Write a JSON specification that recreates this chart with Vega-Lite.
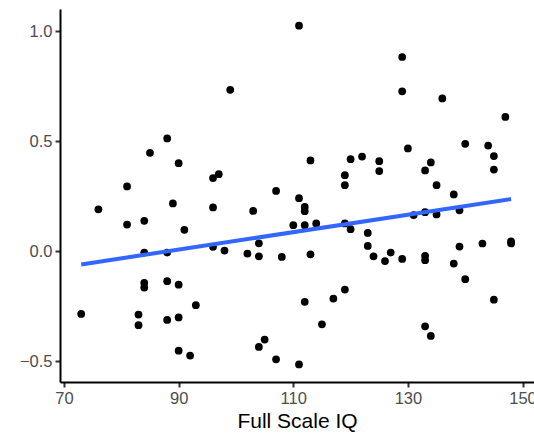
{
  "$schema": "https://vega.github.io/schema/vega-lite/v6.json",
  "width": 474,
  "height": 373,
  "autosize": "none",
  "padding": {"left": 60, "top": 9, "right": 0, "bottom": 56},
  "background": "white",
  "config": {
    "view": {"stroke": null},
    "font": "Liberation Sans",
    "axis": {
      "grid": false,
      "domainColor": "black",
      "domainWidth": 2,
      "tickColor": "#333333",
      "tickWidth": 2,
      "tickSize": 5,
      "labelColor": "#4D4D4D",
      "labelFontSize": 16.5,
      "labelFont": "Liberation Sans",
      "labelPadding": 3,
      "titleFont": "Liberation Sans",
      "titleFontSize": 21,
      "titleFontWeight": "normal",
      "titleColor": "black"
    }
  },
  "datasets": {
    "pts": [
      {"iq": 99, "v": 0.733}, {"iq": 88, "v": 0.512}, {"iq": 85, "v": 0.447}, {"iq": 90, "v": 0.40},
      {"iq": 96, "v": 0.332}, {"iq": 97, "v": 0.35}, {"iq": 81, "v": 0.294}, {"iq": 76, "v": 0.19},
      {"iq": 89, "v": 0.217}, {"iq": 96, "v": 0.199}, {"iq": 103, "v": 0.183}, {"iq": 84, "v": 0.138},
      {"iq": 81, "v": 0.121}, {"iq": 91, "v": 0.097}, {"iq": 84, "v": -0.006}, {"iq": 88, "v": -0.006},
      {"iq": 96, "v": 0.02}, {"iq": 98, "v": 0.003}, {"iq": 102, "v": -0.011}, {"iq": 104, "v": 0.036},
      {"iq": 104, "v": -0.023}, {"iq": 73, "v": -0.285}, {"iq": 84, "v": -0.144}, {"iq": 84, "v": -0.165},
      {"iq": 88, "v": -0.136}, {"iq": 90, "v": -0.152}, {"iq": 93, "v": -0.245}, {"iq": 83, "v": -0.288},
      {"iq": 83, "v": -0.336}, {"iq": 88, "v": -0.312}, {"iq": 90, "v": -0.301}, {"iq": 90, "v": -0.452},
      {"iq": 92, "v": -0.474}, {"iq": 104, "v": -0.435}, {"iq": 105, "v": -0.401}, {"iq": 107, "v": -0.491},
      {"iq": 111, "v": -0.514}, {"iq": 112, "v": -0.23}, {"iq": 115, "v": -0.332}, {"iq": 117, "v": -0.215},
      {"iq": 119, "v": -0.174}, {"iq": 108, "v": -0.026}, {"iq": 113, "v": -0.014}, {"iq": 110, "v": 0.118},
      {"iq": 112, "v": 0.118}, {"iq": 114, "v": 0.126}, {"iq": 112, "v": 0.201}, {"iq": 112, "v": 0.182},
      {"iq": 119, "v": 0.126}, {"iq": 120, "v": 0.1}, {"iq": 123, "v": 0.083}, {"iq": 123, "v": 0.024},
      {"iq": 124, "v": -0.023}, {"iq": 126, "v": -0.045}, {"iq": 127, "v": -0.006}, {"iq": 129, "v": -0.035},
      {"iq": 131, "v": 0.164}, {"iq": 133, "v": 0.177}, {"iq": 135, "v": 0.167}, {"iq": 139, "v": 0.186},
      {"iq": 133, "v": -0.021}, {"iq": 133, "v": -0.041}, {"iq": 138, "v": -0.056}, {"iq": 139, "v": 0.021},
      {"iq": 140, "v": -0.127}, {"iq": 143, "v": 0.035}, {"iq": 145, "v": -0.22}, {"iq": 148, "v": 0.045},
      {"iq": 148, "v": 0.035}, {"iq": 133, "v": -0.341}, {"iq": 134, "v": -0.385}, {"iq": 111, "v": 1.024},
      {"iq": 129, "v": 0.882}, {"iq": 129, "v": 0.726}, {"iq": 136, "v": 0.694}, {"iq": 147, "v": 0.61},
      {"iq": 113, "v": 0.412}, {"iq": 120, "v": 0.418}, {"iq": 122, "v": 0.43}, {"iq": 125, "v": 0.409},
      {"iq": 125, "v": 0.364}, {"iq": 119, "v": 0.345}, {"iq": 119, "v": 0.30}, {"iq": 130, "v": 0.467},
      {"iq": 134, "v": 0.403}, {"iq": 133, "v": 0.367}, {"iq": 135, "v": 0.30}, {"iq": 138, "v": 0.258},
      {"iq": 140, "v": 0.488}, {"iq": 144, "v": 0.48}, {"iq": 145, "v": 0.432}, {"iq": 145, "v": 0.371},
      {"iq": 107, "v": 0.274}, {"iq": 111, "v": 0.241}
    ],
    "fit": [
      {"iq": 73, "v": -0.060},
      {"iq": 148, "v": 0.237}
    ]
  },
  "layer": [
    {
      "data": {"name": "pts"},
      "mark": {"type": "circle", "size": 60, "color": "black", "opacity": 1},
      "encoding": {
        "x": {
          "field": "iq", "type": "quantitative", "title": "Full Scale IQ",
          "scale": {"domain": [69.3, 152], "nice": false, "zero": false},
          "axis": {"values": [70, 90, 110, 130, 150], "titlePadding": 4}
        },
        "y": {
          "field": "v", "type": "quantitative", "title": null,
          "scale": {"domain": [-0.594, 1.1], "nice": false, "zero": false},
          "axis": {"values": [-0.5, 0, 0.5, 1.0], "format": ".1f"}
        }
      }
    },
    {
      "data": {"name": "fit"},
      "mark": {"type": "line", "color": "#3366FF", "strokeWidth": 4},
      "encoding": {
        "x": {"field": "iq", "type": "quantitative"},
        "y": {"field": "v", "type": "quantitative"}
      }
    }
  ]
}
